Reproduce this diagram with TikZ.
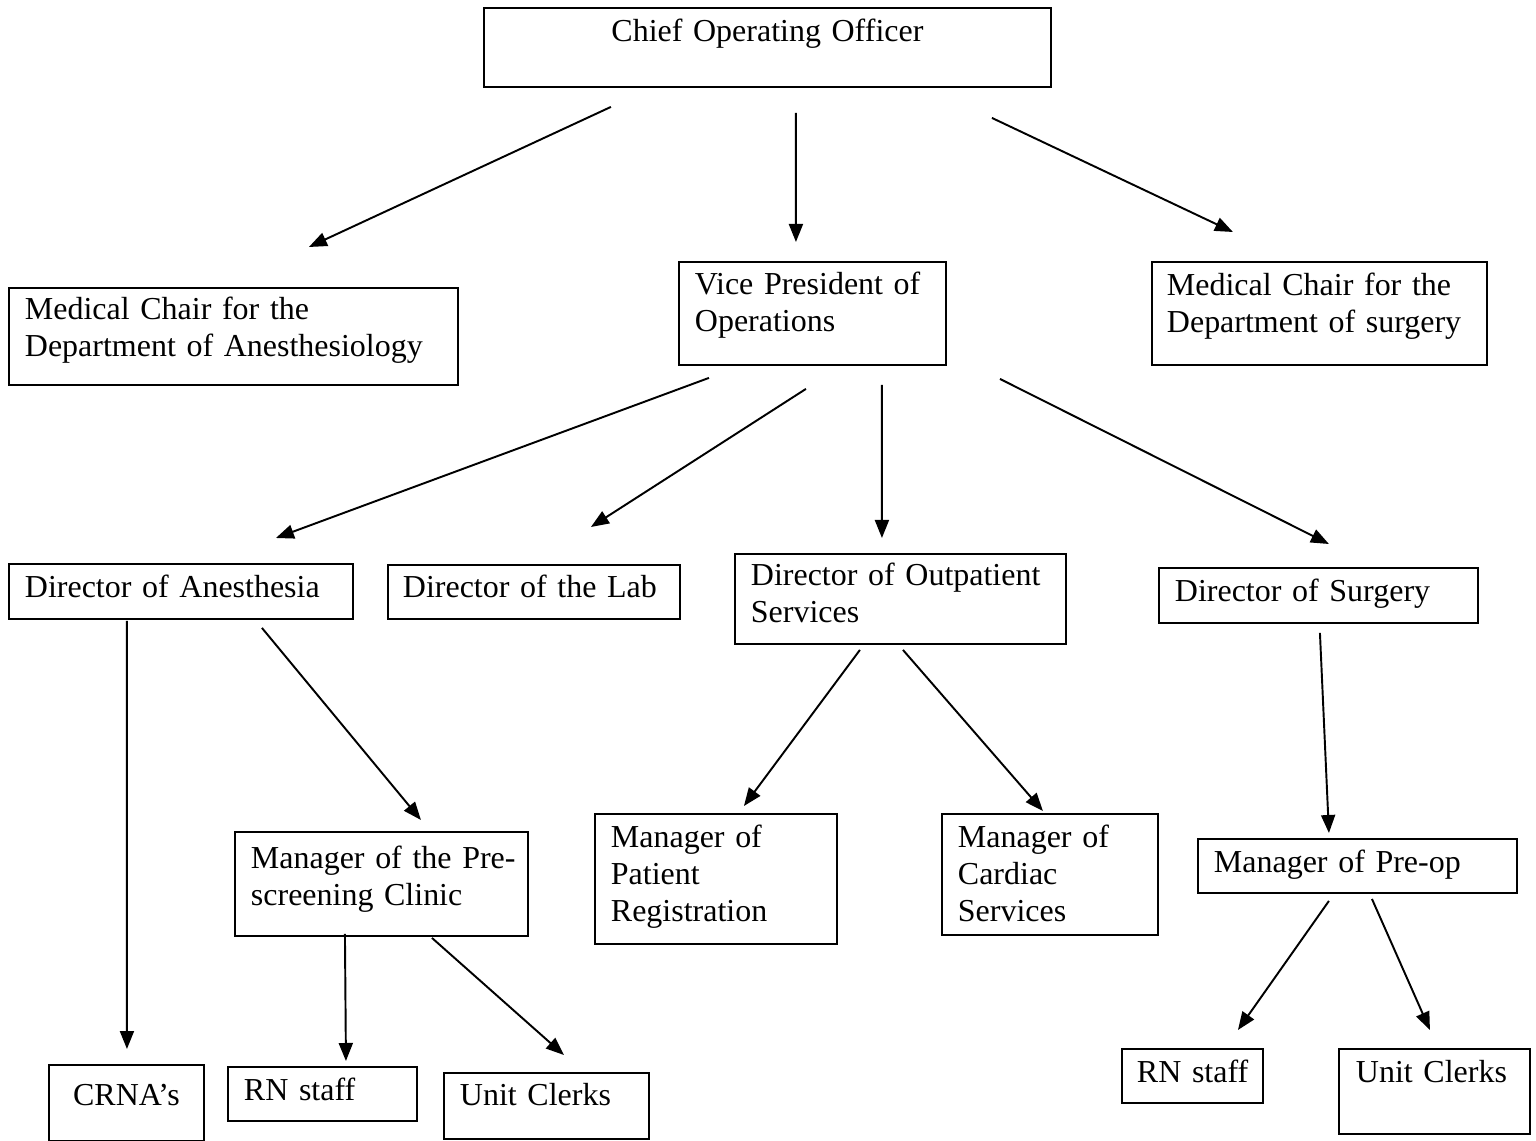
\documentclass[tikz,border=0pt]{standalone}
\usepackage{fontspec}
\setmainfont{Liberation Serif}
\usepackage{tikz}
\usetikzlibrary{arrows.meta}
\usetikzlibrary{backgrounds}

\newcommand{\orgfont}{\fontsize{18.2}{21.06}\selectfont}

\tikzset{
	orgbox/.style={draw, line width=1.1pt, anchor=north west, inner xsep=0.32cm, inner ysep=0pt, align=left, font=\orgfont},
	orgarrow/.style={line width=1.1pt, -{Triangle[length=0.36cm,width=0.28cm]}}
}

\begin{document}
\begin{tikzpicture}[x=0.02cm,y=-0.02cm]
		\useasboundingbox (0,0) rectangle (1536,1141);

		\node[orgbox, align=center, text width=10.70cm, text height=0.68cm, text depth=0.90cm] at (483,7) (coo) {Chief Operating Officer};

		\node[orgbox, text width=8.34cm, text height=0.64cm, text depth=1.30cm] at (8,287) (medanes) {Medical Chair for the\\Department of Anesthesiology};
		\node[orgbox, text width=4.70cm, text height=0.66cm, text depth=1.40cm] at (678,261) (vp) {Vice President of\\Operations};
		\node[orgbox, inner xsep=0.30cm, text width=6.10cm, text height=0.68cm, text depth=1.38cm] at (1151,261) (medsurg) {Medical Chair for the\\Department of surgery};

		\node[orgbox, text width=6.24cm, text height=0.68cm, text depth=0.42cm] at (8,563) (diranes) {Director of Anesthesia};
		\node[orgbox, inner xsep=0.30cm, text width=5.24cm, text height=0.66cm, text depth=0.42cm] at (387,564) (dirlab) {Director of the Lab};
		\node[orgbox, text width=5.98cm, text height=0.64cm, text depth=1.16cm] at (734,553) (dirout) {Director of Outpatient\\Services};
		\node[orgbox, text width=5.74cm, text height=0.68cm, text depth=0.42cm] at (1158,567) (dirsurg) {Director of Surgery};

		\node[orgbox, text width=5.22cm, text height=0.74cm, text depth=1.34cm] at (234,831) (mgrpre) {\mbox{Manager of the Pre-}\\screening Clinic};
		\node[orgbox, text width=4.20cm, text height=0.68cm, text depth=1.92cm] at (594,813) (mgrpat) {Manager of\\Patient\\Registration};
		\node[orgbox, text width=3.68cm, text height=0.68cm, text depth=1.74cm] at (941,813) (mgrcard) {Manager of\\Cardiac\\Services};
		\node[orgbox, text width=5.74cm, text height=0.68cm, text depth=0.40cm] at (1197,838) (mgrpreop) {Manager of Pre-op};

		\node[orgbox, align=center, text width=2.46cm, text height=0.82cm, text depth=0.70cm] at (48,1064) (crna) {CRNA's};
		\node[orgbox, text width=3.14cm, text height=0.68cm, text depth=0.40cm] at (227,1066) (rnleft) {RN staff};
		\node[orgbox, text width=3.46cm, text height=0.66cm, text depth=0.66cm] at (443,1072) (ucleft) {Unit Clerks};
		\node[orgbox, inner xsep=0.30cm, text width=2.22cm, text height=0.68cm, text depth=0.40cm] at (1121,1048) (rnright) {\mbox{RN staff}};
		\node[orgbox, inner xsep=0.34cm, text width=3.14cm, text height=0.68cm, text depth=1.02cm] at (1338,1048) (ucright) {Unit Clerks};

		\begin{scope}[on background layer]
			\draw[orgarrow] ([shift={(-156.5,19)}]coo.south) to ([shift={(75.5,-40)}]medanes.north);
			\draw[orgarrow] ([shift={(28.5,25)}]coo.south) to ([shift={(-16.5,-19)}]vp.north);
			\draw[orgarrow] ([shift={(224.5,30)}]coo.south) to ([shift={(-86.5,-29)}]medsurg.north);

			\draw[orgarrow] ([shift={(-103.5,12)}]vp.south) to ([shift={(95,-25)}]diranes.north);
			\draw[orgarrow] ([shift={(-6.5,23)}]vp.south) to ([shift={(57,-37)}]dirlab.north);
			\draw[orgarrow] ([shift={(69.5,19)}]vp.south) to ([shift={(-18.5,-15)}]dirout.north);
			\draw[orgarrow] ([shift={(187.5,13)}]vp.south) to ([shift={(10.5,-23)}]dirsurg.north);

			\draw[orgarrow] ([shift={(-54,1)}]diranes.south) to ([shift={(0.5,-15)}]crna.north);
			\draw[orgarrow] ([shift={(81,8)}]diranes.south) to ([shift={(39.5,-11)}]mgrpre.north);
			\draw[orgarrow] ([shift={(-40.5,5)}]dirout.south) to ([shift={(28,-7)}]mgrpat.north);
			\draw[orgarrow] ([shift={(2.5,5)}]dirout.south) to ([shift={(-7,-2)}]mgrcard.north);
			\draw[orgarrow] ([shift={(1.5,9)}]dirsurg.south) to ([shift={(-28.5,-5)}]mgrpreop.north);

			\draw[orgarrow] ([shift={(-36.5,-3)}]mgrpre.south) to ([shift={(23.5,-5)}]rnleft.north);
			\draw[orgarrow] ([shift={(50.5,1)}]mgrpre.south) to ([shift={(17.5,-17)}]ucleft.north);
			\draw[orgarrow] ([shift={(-28.5,7)}]mgrpreop.south) to ([shift={(45.5,-18)}]rnright.north);
			\draw[orgarrow] ([shift={(14.5,5)}]mgrpreop.south) to ([shift={(-4.5,-18)}]ucright.north);
		\end{scope}
	\end{tikzpicture}
\end{document}
